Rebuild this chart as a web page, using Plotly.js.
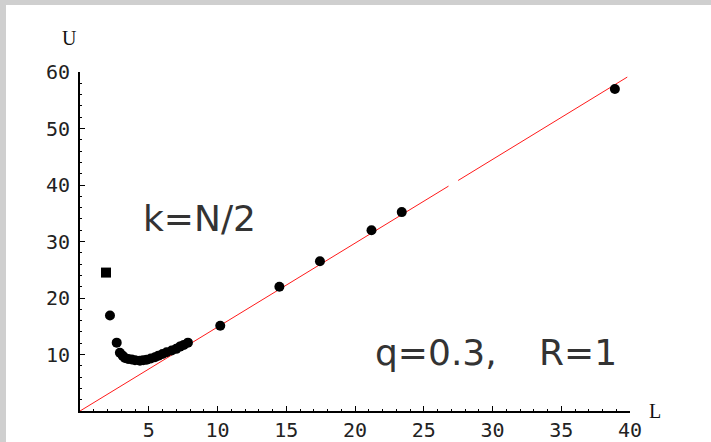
<!DOCTYPE html>
<html>
<head>
<meta charset="utf-8">
<script src="https://cdn.plot.ly/plotly-3.0.1.min.js"></script>
<style>
  html, body { margin: 0; padding: 0; background: #cfcfcf; width: 711px; height: 442px; overflow: hidden; }
  #chart { position: absolute; left: 6px; top: 5px; width: 705px; height: 437px; background: #fff; }
</style>
</head>
<body>
<div id="chart"></div>
<script>
// Square point (first value)
const squareL = [1.89];
const squareU = [24.5];

// Circle points
const circleL = [2.18, 2.67, 2.9, 3.1, 3.27, 3.5, 3.76, 4.0, 4.36, 4.6, 4.85, 5.15, 5.45, 5.7, 6.0, 6.3, 6.67, 7.0, 7.27, 7.55, 7.85, 10.2, 14.5, 17.45, 21.2, 23.4, 38.9];
const circleU = [16.9, 12.1, 10.3, 9.8, 9.4, 9.2, 9.1, 9.0, 8.9, 9.0, 9.06, 9.3, 9.5, 9.8, 10.1, 10.4, 10.7, 11.0, 11.4, 11.7, 12.1, 15.1, 22.0, 26.5, 32.0, 35.2, 57.0];

// Red reference line (with a small gap as in the original)
const lineL = [0, 26.8, null, 27.5, 39.8];
const lineU = [0, 39.8, null, 40.8, 59.1];

const xTicks = [5, 10, 15, 20, 25, 30, 35, 40];
const yTicks = [10, 20, 30, 40, 50, 60];

const tickFont = {family: 'DejaVu Sans Mono', size: 20, color: '#222'};

const traces = [
  {x: lineL, y: lineU, mode: 'lines', line: {color: '#ff1a1a', width: 1}, connectgaps: false, hoverinfo: 'skip'},
  {x: circleL, y: circleU, mode: 'markers', marker: {symbol: 'circle', size: 10, color: '#000'}},
  {x: squareL, y: squareU, mode: 'markers', marker: {symbol: 'square', size: 10, color: '#000'}}
];

const layout = {
  width: 705, height: 437,
  margin: {l: 74, r: 81, t: 67, b: 31, pad: 0},
  paper_bgcolor: '#ffffff', plot_bgcolor: '#ffffff',
  showlegend: false,
  xaxis: {
    range: [0, 40], showgrid: false, zeroline: false,
    showline: true, linecolor: '#000', linewidth: 2,
    tickvals: xTicks, ticktext: xTicks.map(String),
    ticks: 'inside', ticklen: 5, tickwidth: 1, tickcolor: '#000',
    minor: {dtick: 1, ticks: 'inside', ticklen: 2, tickwidth: 1, tickcolor: '#000', showgrid: false},
    tickfont: tickFont, ticklabelstandoff: 0
  },
  yaxis: {
    range: [0, 60], showgrid: false, zeroline: false,
    showline: true, linecolor: '#000', linewidth: 2,
    tickvals: yTicks, ticktext: yTicks.map(String),
    ticks: 'inside', ticklen: 5, tickwidth: 1, tickcolor: '#000',
    minor: {dtick: 2, ticks: 'inside', ticklen: 2, tickwidth: 1, tickcolor: '#000', showgrid: false},
    tickfont: tickFont, ticklabelstandoff: 4
  },
  annotations: [
    {text: 'U', xref: 'paper', yref: 'paper', x: -0.02, y: 1.1, showarrow: false, xanchor: 'center', yanchor: 'middle',
     font: {family: 'Liberation Serif', size: 20, color: '#111'}},
    {text: 'L', xref: 'paper', yref: 'paper', x: 1.045, y: 0.0, showarrow: false, xanchor: 'center', yanchor: 'middle',
     font: {family: 'Liberation Serif', size: 20, color: '#111'}},
    {text: 'k=N/2', xref: 'paper', yref: 'paper', x: 0.2164, y: 0.569, showarrow: false, xanchor: 'center', yanchor: 'middle',
     font: {family: 'DejaVu Sans', size: 36, color: '#333'}},
    {text: 'q=0.3,', xref: 'paper', yref: 'paper', x: 0.532, y: 0.174, showarrow: false, xanchor: 'left', yanchor: 'middle',
     font: {family: 'DejaVu Sans', size: 36, color: '#333'}},
    {text: 'R=1', xref: 'paper', yref: 'paper', x: 0.831, y: 0.174, showarrow: false, xanchor: 'left', yanchor: 'middle',
     font: {family: 'DejaVu Sans', size: 36, color: '#333'}}
  ]
};

Plotly.newPlot('chart', traces, layout, {staticPlot: true, displayModeBar: false});
</script>
</body>
</html>
